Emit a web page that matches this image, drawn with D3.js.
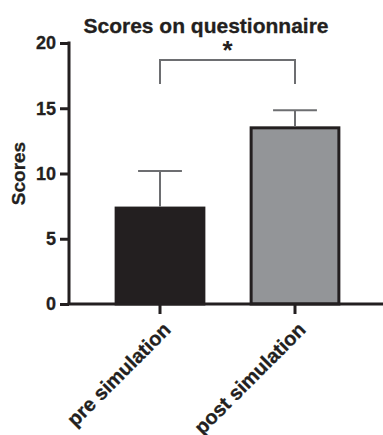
<!DOCTYPE html>
<html>
<head>
<meta charset="utf-8">
<script src="https://cdn.jsdelivr.net/npm/d3@7/dist/d3.min.js"></script>
<style>
  html, body { margin: 0; padding: 0; background: #fff; }
  svg { display: block; }
  text { font-family: "Liberation Sans", Arial, sans-serif; font-weight: bold; fill: #231f20; }
</style>
</head>
<body>
<div id="chart"></div>
<script>
// Questionnaire scores before and after the simulation (mean + SD)
const categories = ["pre simulation", "post simulation"];
const means = [7.35, 13.5];
const errors = [2.85, 1.35];
const barColors = ["#231f20", "#939598"];
const yTicks = [0, 5, 10, 15, 20];
const significance = "*";

const W = 383, H = 435;
const margin = { top: 43, right: 0, bottom: 131, left: 69 };

const svg = d3.select("#chart").append("svg")
  .attr("width", W).attr("height", H);

const y = d3.scaleLinear().domain([0, 20]).range([H - margin.bottom, margin.top]);
const x = d3.scaleBand().domain(categories)
  .range([92.5, 362.5]).paddingInner(0.35).paddingOuter(0.175);

// Title
svg.append("text")
  .attr("x", 206).attr("y", 33)
  .attr("text-anchor", "middle")
  .style("font-size", "21px")
  .style("stroke", "#231f20").style("stroke-width", "0.3px")
  .text("Scores on questionnaire");

// Y axis
const yAxis = svg.append("g")
  .attr("transform", `translate(${margin.left},0)`)
  .call(d3.axisLeft(y).tickValues(yTicks).tickSize(9).tickPadding(4).tickSizeOuter(0));
yAxis.select(".domain").attr("stroke", "#231f20").attr("stroke-width", 3)
  .attr("d", `M0,${y(20) - 1.5}V${y(0)}`);
yAxis.selectAll(".tick line").attr("stroke", "#231f20").attr("stroke-width", 3);
yAxis.selectAll(".tick text")
  .style("font-size", "18px")
  .style("font-family", "'Liberation Sans', Arial, sans-serif")
  .style("stroke", "#231f20").style("stroke-width", "0.3px")
  .attr("fill", "#231f20");

// Y axis title
svg.append("text")
  .attr("transform", `translate(25,${(y(0) + y(20)) / 2})`)
  .attr("text-anchor", "middle")
  .attr("transform", `translate(25,${(y(0) + y(20)) / 2}) rotate(-90)`)
  .style("font-size", "19px")
  .style("stroke", "#231f20").style("stroke-width", "0.3px")
  .text("Scores");

// Bars
const bw = x.bandwidth();
svg.selectAll("rect.bar").data(categories).enter().append("rect")
  .attr("class", "bar")
  .attr("x", d => x(d))
  .attr("y", (d, i) => y(means[i]))
  .attr("width", bw)
  .attr("height", (d, i) => y(0) - y(means[i]))
  .attr("fill", (d, i) => barColors[i])
  .attr("stroke", "#231f20")
  .attr("stroke-width", 3);

// Error bars (upper only)
const eb = svg.append("g").attr("stroke", "#6d6e71").attr("stroke-width", 2).attr("fill", "none");
categories.forEach((c, i) => {
  const cx = x(c) + bw / 2;
  eb.append("line").attr("x1", cx).attr("x2", cx)
    .attr("y1", y(means[i]) - 1.5).attr("y2", y(means[i] + errors[i]));
  eb.append("line").attr("x1", cx - bw / 4).attr("x2", cx + bw / 4)
    .attr("y1", y(means[i] + errors[i])).attr("y2", y(means[i] + errors[i]));
});

// X axis
const xAxis = svg.append("g")
  .attr("transform", `translate(0,${y(0)})`)
  .call(d3.axisBottom(x).tickSize(10).tickSizeOuter(0));
xAxis.select(".domain").attr("stroke", "#231f20").attr("stroke-width", 3)
  .attr("d", `M${margin.left - 1.5},0H${W}`);
xAxis.selectAll(".tick line").attr("stroke", "#231f20").attr("stroke-width", 3);
xAxis.selectAll(".tick text")
  .style("font-size", "20px")
  .style("font-family", "'Liberation Sans', Arial, sans-serif")
  .style("stroke", "#231f20").style("stroke-width", "0.3px")
  .attr("fill", "#231f20")
  .attr("text-anchor", "end")
  .attr("dy", "0.35em")
  .attr("transform", "translate(7,22) rotate(-45)")
  .attr("x", 0).attr("y", 0);

// Significance bracket
const bTop = y(18.7), bBot = y(16.85);
const x1 = x(categories[0]) + bw / 2, x2 = x(categories[1]) + bw / 2;
svg.append("path")
  .attr("d", `M${x1},${bBot}V${bTop}H${x2}V${bBot}`)
  .attr("fill", "none").attr("stroke", "#6d6e71").attr("stroke-width", 2);
svg.append("text")
  .attr("x", (x1 + x2) / 2).attr("y", bTop - 1)
  .attr("text-anchor", "middle")
  .style("font-size", "26px")
  .text(significance);
</script>
</body>
</html>
